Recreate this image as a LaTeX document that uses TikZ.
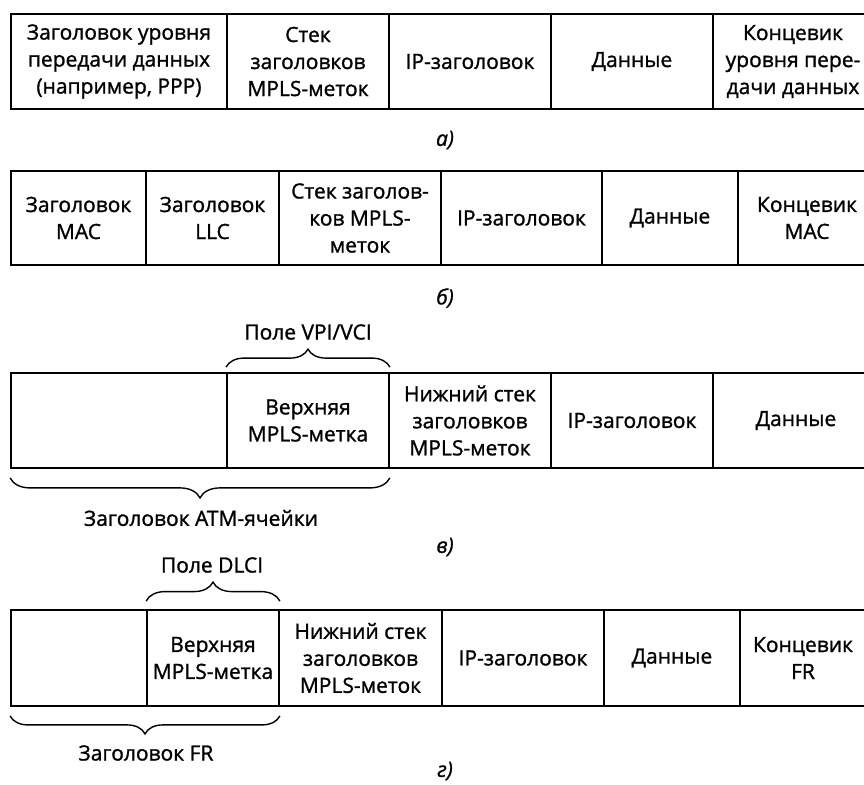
\documentclass[tikz,border=0pt]{standalone}
\usepackage{fontspec}
\setmainfont{Open Sans}[FakeBold=1.2]
\usetikzlibrary{decorations.pathreplacing}
\newcommand{\cellfont}{\fontsize{21}{27}\selectfont}
\begin{document}
\begin{tikzpicture}[x=1pt,y=-1pt,
  cell/.style={draw, line width=1.8pt, inner sep=0pt, align=center, font=\cellfont},
  rowa/.style={cell, minimum height=95pt},
  rowb/.style={cell, minimum height=94pt},
  rowd/.style={cell, minimum height=96pt},
  brace/.style={decorate, line width=1.4pt, decoration={brace, amplitude=#1}},
  lbl/.style={font=\cellfont, inner sep=0pt},
  figcap/.style={font=\cellfont\itshape, inner sep=0pt}]
\useasboundingbox (0,0) rectangle (864,784);
\clip (0,0) rectangle (864,784);
% row a
\node[rowa, minimum width=216pt] (a1) at (119,61.5) {Заголовок уровня\\передачи данных\\(например, PPP)};
\node[rowa, minimum width=162pt] (a2) at (308,61.5) {Стек\\заголовков\\MPLS-меток};
\node[rowa, minimum width=162pt] (a3) at (470,61.5) {IP-заголовок};
\node[rowa, minimum width=162pt] (a4) at (632,61.5) {Данные};
\node[rowa, minimum width=160pt] (a5) at (793,61.5) {Концевик\\уровня пере-\\дачи данных};
\node[figcap] (ca) at (445,140) {а)};
% row b
\node[rowb, minimum width=135pt] (b1) at (78.5,218) {Заголовок\\MAC};
\node[rowb, minimum width=133pt] (b2) at (212.5,218) {Заголовок\\LLC};
\node[rowb, minimum width=162pt] (b3) at (360,218) {Стек заголов-\\ков MPLS-\\меток};
\node[rowb, minimum width=161pt] (b4) at (521.5,218) {IP-заголовок};
\node[rowb, minimum width=136pt] (b5) at (670,218) {Данные};
\node[rowb, minimum width=138pt] (b6) at (807,218) {Концевик\\MAC};
\node[figcap] (cb) at (445,298) {б)};
% row c
\node[rowa, minimum width=216pt] (c1) at (119,420.5) {};
\node[rowa, minimum width=162pt] (c2) at (308,420.5) {Верхняя\\MPLS-метка};
\node[rowa, minimum width=162pt] (c3) at (470,420.5) {Нижний стек\\заголовков\\MPLS-меток};
\node[rowa, minimum width=162pt] (c4) at (632,420.5) {IP-заголовок};
\node[rowa, minimum width=166pt] (c5) at (796,420.5) {Данные};
\draw[brace=18pt] ([yshift=5pt]c2.north west) -- ([yshift=5pt]c2.north east);
\node[lbl] (lvpi) at (308,332) {Поле VPI/VCI};
\draw[brace=20pt] ([yshift=-9pt]c2.south east) -- ([yshift=-9pt]c1.south west);
\node[lbl] (latm) at (201,518) {Заголовок ATM-ячейки};
\node[figcap] (cc) at (445,547) {в)};
% row d
\node[rowd, minimum width=136pt] (d1) at (79,658) {};
\node[rowd, minimum width=132pt] (d2) at (213,658) {Верхняя\\MPLS-метка};
\node[rowd, minimum width=163pt] (d3) at (360.5,658) {Нижний стек\\заголовков\\MPLS-меток};
\node[rowd, minimum width=162pt] (d4) at (523,658) {IP-заголовок};
\node[rowd, minimum width=136pt] (d5) at (672,658) {Данные};
\node[rowd, minimum width=126pt] (d6) at (803,658) {Концевик\\FR};
\draw[brace=19pt] ([yshift=8pt]d2.north west) -- ([yshift=8pt]d2.north east);
\node[lbl] (ldlci) at (212,565) {Поле DLCI};
\draw[brace=18pt] ([yshift=-9pt]d2.south east) -- ([yshift=-9pt]d1.south west);
\node[lbl] (lfr) at (146,753) {Заголовок FR};
\node[figcap] (cd) at (445,771) {г)};
\end{tikzpicture}
\end{document}
